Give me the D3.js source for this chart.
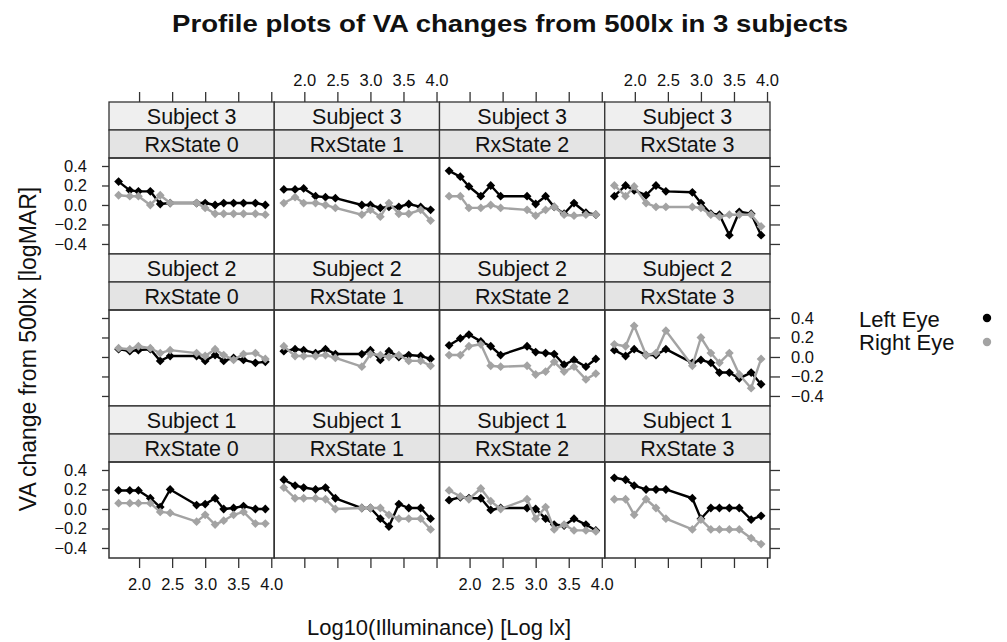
<!DOCTYPE html>
<html><head><meta charset="utf-8">
<script src="https://cdn.jsdelivr.net/npm/d3@7"></script>
<style>
html,body{margin:0;padding:0;background:#fff;}
text{font-family:"Liberation Sans",Arial,sans-serif;fill:#111;}
</style></head>
<body>
<svg id="chart" width="1007" height="642"></svg>
<script>
// ---- data ----
const title = "Profile plots of VA changes from 500lx in 3 subjects";
const xLabel = "Log10(Illuminance) [Log lx]";
const yLabel = "VA change from 500lx [logMAR]";
const subjects = ["Subject 3", "Subject 2", "Subject 1"];   // rows, top to bottom
const rxStates = ["RxState 0", "RxState 1", "RxState 2", "RxState 3"]; // columns
const seriesNames = ["Left Eye", "Right Eye"];
const xTicks = [2.0, 2.5, 3.0, 3.5, 4.0];
const yTicks = [0.4, 0.2, 0.0, -0.2, -0.4];
const logLux = [1.69, 1.86, 1.99, 2.17, 2.32, 2.47, 2.87, 3.0, 3.15, 3.28, 3.43, 3.58, 3.76, 3.91];

const s3rx0Left  = [0.24, 0.15, 0.14, 0.14, 0.01, 0.02, 0.02, 0.02, 0.00, 0.02, 0.02, 0.02, 0.02, 0.00];
const s3rx0Right = [0.10, 0.09, 0.09, 0.00, 0.10, 0.02, 0.02, -0.03, -0.09, -0.09, -0.09, -0.09, -0.09, -0.10];
const s3rx1Left  = [0.16, 0.16, 0.17, 0.09, 0.08, 0.07, 0.00, 0.00, -0.03, -0.02, -0.02, 0.01, -0.02, -0.05];
const s3rx1Right = [0.02, 0.08, 0.02, 0.02, 0.00, -0.03, -0.10, -0.05, -0.12, 0.02, -0.09, -0.09, -0.05, -0.16];
const s3rx2Left  = [0.35, 0.29, 0.19, 0.09, 0.20, 0.09, 0.09, 0.01, 0.09, -0.02, -0.09, 0.02, -0.08, -0.10];
const s3rx2Right = [0.09, 0.09, -0.03, -0.03, 0.00, -0.03, -0.05, -0.11, -0.05, -0.02, -0.10, -0.11, -0.10, -0.10];
const s3rx3Left  = [0.09, 0.20, 0.15, 0.10, 0.20, 0.14, 0.13, 0.02, -0.09, -0.10, -0.31, -0.07, -0.09, -0.31];
const s3rx3Right = [0.20, 0.09, 0.19, 0.02, -0.02, -0.02, -0.02, -0.03, -0.10, -0.12, -0.10, -0.10, -0.10, -0.22];

const s2rx0Left  = [0.08, 0.06, 0.07, 0.08, -0.04, 0.01, 0.01, -0.04, 0.02, -0.04, -0.01, -0.03, -0.06, -0.05];
const s2rx0Right = [0.09, 0.08, 0.11, 0.09, 0.04, 0.07, 0.04, 0.01, 0.08, 0.02, -0.03, 0.03, 0.04, -0.02];
const s2rx1Left  = [0.06, 0.08, 0.07, 0.04, 0.08, 0.03, 0.03, 0.07, -0.03, 0.06, 0.00, 0.02, 0.01, -0.02];
const s2rx1Right = [0.11, 0.01, 0.01, 0.01, 0.02, -0.01, -0.10, 0.03, 0.02, 0.00, 0.02, -0.04, -0.04, -0.09];
const s2rx2Left  = [0.12, 0.19, 0.23, 0.16, 0.11, 0.02, 0.11, 0.05, 0.04, 0.03, -0.08, -0.03, -0.10, -0.02];
const s2rx2Right = [0.02, 0.02, 0.11, 0.13, -0.09, -0.10, -0.09, -0.18, -0.15, -0.05, -0.15, -0.10, -0.23, -0.17];
const s2rx3Left  = [0.07, 0.01, 0.08, 0.02, 0.02, 0.08, -0.06, -0.03, -0.06, -0.16, -0.16, -0.22, -0.16, -0.28];
const s2rx3Right = [0.13, 0.11, 0.32, 0.02, 0.04, 0.27, -0.09, 0.20, 0.04, -0.06, 0.04, -0.18, -0.32, -0.02];

const s1rx0Left  = [0.19, 0.19, 0.19, 0.11, 0.02, 0.20, 0.04, 0.05, 0.11, 0.00, 0.01, 0.03, 0.00, 0.00];
const s1rx0Right = [0.06, 0.06, 0.06, 0.06, -0.03, -0.04, -0.13, -0.06, -0.16, -0.12, -0.06, -0.03, -0.15, -0.15];
const s1rx1Left  = [0.30, 0.24, 0.22, 0.20, 0.22, 0.11, 0.01, 0.01, -0.10, -0.18, 0.05, 0.01, 0.01, -0.10];
const s1rx1Right = [0.22, 0.11, 0.11, 0.11, 0.10, 0.00, 0.01, 0.01, 0.01, -0.06, -0.10, -0.10, -0.10, -0.21];
const s1rx2Left  = [0.09, 0.12, 0.11, 0.11, -0.01, 0.01, 0.01, 0.00, -0.10, -0.16, -0.17, -0.10, -0.16, -0.22];
const s1rx2Right = [0.19, 0.13, 0.10, 0.21, 0.08, 0.00, 0.10, -0.10, 0.02, -0.21, -0.16, -0.22, -0.22, -0.23];
const s1rx3Left  = [0.32, 0.30, 0.24, 0.20, 0.20, 0.20, 0.11, -0.10, 0.01, 0.01, 0.01, 0.01, -0.11, -0.07];
const s1rx3Right = [0.10, 0.10, -0.06, 0.10, 0.01, -0.10, -0.21, -0.11, -0.21, -0.21, -0.21, -0.21, -0.30, -0.36];

const panelData = [
  [[s3rx0Left, s3rx0Right], [s3rx1Left, s3rx1Right], [s3rx2Left, s3rx2Right], [s3rx3Left, s3rx3Right]],
  [[s2rx0Left, s2rx0Right], [s2rx1Left, s2rx1Right], [s2rx2Left, s2rx2Right], [s2rx3Left, s2rx3Right]],
  [[s1rx0Left, s1rx0Right], [s1rx1Left, s1rx1Right], [s1rx2Left, s1rx2Right], [s1rx3Left, s1rx3Right]]
];

// ---- layout ----
const colors = ["#000000", "#a3a3a3"];
const L = 109, colW = 165.25, T = 102, stripH = 28, panelH = 96, rowH = stripH * 2 + panelH;
const svg = d3.select("#chart");
const font = "Liberation Sans, Arial, sans-serif";

const x = d3.scaleLinear().domain([1.545, 4.045]).range([0, colW]);
const y = d3.scaleLinear().domain([-0.503, 0.482]).range([panelH, 0]);

const line = d3.line().x((d, i) => x(logLux[i])).y(d => y(d));
const diamond = r => `M0,${-r}L${r},0L0,${r}L${-r},0Z`;

// title
svg.append("text").attr("x", 510).attr("y", 32).attr("text-anchor", "middle")
  .attr("textLength", 676).attr("lengthAdjust", "spacingAndGlyphs")
  .style("font-size", "24px").style("font-weight", "bold").text(title);

for (let r = 0; r < 3; r++) {
  for (let c = 0; c < 4; c++) {
    const gx = L + c * colW, gy = T + r * rowH;
    const g = svg.append("g").attr("transform", `translate(${gx},${gy})`);
    // strips
    g.append("rect").attr("x", 0).attr("y", 0).attr("width", colW).attr("height", stripH)
      .attr("fill", "#efefef").attr("stroke", "#333").attr("stroke-width", 1.3);
    g.append("rect").attr("x", 0).attr("y", stripH).attr("width", colW).attr("height", stripH)
      .attr("fill", "#e4e4e4").attr("stroke", "#333").attr("stroke-width", 1.3);
    g.append("text").attr("x", colW / 2).attr("y", stripH / 2 + 7.5).attr("text-anchor", "middle")
      .style("font-size", "21.5px").text(subjects[r]);
    g.append("text").attr("x", colW / 2).attr("y", stripH + stripH / 2 + 7.5).attr("text-anchor", "middle")
      .style("font-size", "21.5px").text(rxStates[c]);
    // panel
    const p = g.append("g").attr("transform", `translate(0,${stripH * 2})`);
    const series = panelData[r][c];
    series.forEach((vals, s) => {
      p.append("path").attr("d", line(vals)).attr("fill", "none")
        .attr("stroke", colors[s]).attr("stroke-width", 2.4).attr("stroke-linejoin", "round");
      p.selectAll(null).data(vals).enter().append("path")
        .attr("d", diamond(4.4))
        .attr("transform", (d, i) => `translate(${x(logLux[i])},${y(d)})`)
        .attr("fill", colors[s]);
    });
    p.append("rect").attr("x", 0).attr("y", 0).attr("width", colW).attr("height", panelH)
      .attr("fill", "none").attr("stroke", "#333").attr("stroke-width", 1.5);

    // top axis (ticks all, labels cols 1,3)
    if (r === 0) {
      const ax = svg.append("g").attr("transform", `translate(${gx},${T})`)
        .call(d3.axisTop(x).tickValues(xTicks).tickSize(10).tickPadding(6)
          .tickFormat(c % 2 === 1 ? d3.format(".1f") : () => ""));
      styleAxis(ax, 16.5);
    }
    if (r === 2) {
      const ax = svg.append("g").attr("transform", `translate(${gx},${T + 3 * rowH})`)
        .call(d3.axisBottom(x).tickValues(xTicks).tickSize(10).tickPadding(10)
          .tickFormat(c % 2 === 0 ? d3.format(".1f") : () => ""));
      styleAxis(ax, 16.5);
    }
    if (c === 0) {
      const ax = svg.append("g").attr("transform", `translate(${L},${gy + stripH * 2})`)
        .call(d3.axisLeft(y).tickValues(yTicks).tickSize(7).tickPadding(15)
          .tickFormat(r % 2 === 0 ? d3.format(".1f") : () => ""));
      styleAxis(ax, 16.5);
    }
    if (c === 3) {
      const ax = svg.append("g").attr("transform", `translate(${L + 4 * colW},${gy + stripH * 2})`)
        .call(d3.axisRight(y).tickValues(yTicks).tickSize(10).tickPadding(11)
          .tickFormat(r % 2 === 1 ? d3.format(".1f") : () => ""));
      styleAxis(ax, 16.5);
    }
  }
}

function styleAxis(ax, fs) {
  ax.select(".domain").remove();
  ax.selectAll(".tick line").attr("stroke", "#333").attr("stroke-width", 1.3);
  ax.selectAll(".tick text").attr("fill", "#111").style("font-size", fs + "px").style("font-family", font);
}

// axis titles
svg.append("text").attr("x", 439).attr("y", 635).attr("text-anchor", "middle")
  .style("font-size", "22px").text(xLabel);
svg.append("text").attr("transform", "translate(36,349) rotate(-90)").attr("text-anchor", "middle")
  .style("font-size", "23px").text(yLabel);

// legend
const lg = svg.append("g");
seriesNames.forEach((n, i) => {
  lg.append("text").attr("x", 859).attr("y", 327 + i * 23).style("font-size", "22px").text(n);
  lg.append("circle").attr("cx", 987).attr("cy", 318 + i * 24).attr("r", 4.2).attr("fill", colors[i]);
});
</script>
</body></html>
